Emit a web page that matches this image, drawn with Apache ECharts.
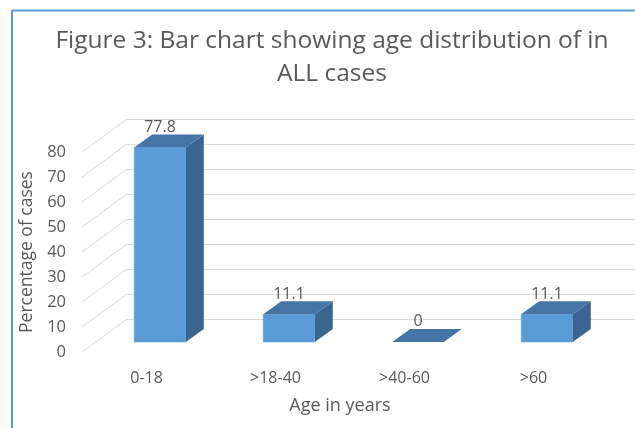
<!DOCTYPE html>
<html>
<head>
<meta charset="utf-8">
<script src="https://cdn.jsdelivr.net/npm/echarts@6/dist/echarts.min.js"></script>
<style>
  html, body { margin: 0; padding: 0; background: #ffffff; }
  #chart { width: 635px; height: 428px; }
</style>
</head>
<body>
<div id="chart"></div>
<script>
// ---- data ----
const categories = ['0-18', '>18-40', '>40-60', '>60'];
const percentages = [77.8, 11.1, 0, 11.1];
const yTicks = [0, 10, 20, 30, 40, 50, 60, 70, 80];
const titleText = 'Figure 3: Bar chart showing age distribution of in\nALL cases';
const xTitle = 'Age in years';
const yTitle = 'Percentage of cases';

// ---- style / geometry ----
const TEXT = '#595959';
const GRID = '#D9D9D9';
const FRONT = '#5B9BD5';
const TOPC = '#4674A6';
const SIDE = '#3A6590';
const FONT = 'Open Sans';
const DX = 45, DY = -33;           // depth of the 3D floor
const F0 = 0.3, F1 = 0.7;          // bar depth start / end fraction

const chart = echarts.init(document.getElementById('chart'), null, { renderer: 'canvas' });

function renderDiag(params, api) {
  const p = api.coord([0, api.value(1)]);
  const x = params.coordSys.x;
  return {
    type: 'line',
    shape: { x1: x, y1: p[1], x2: x + DX, y2: p[1] + DY },
    style: { stroke: GRID, lineWidth: 1 },
    z2: 0
  };
}

function renderBar(params, api) {
  const i = api.value(0), v = api.value(1);
  const base = api.coord([i, 0]);
  const top = api.coord([i, v]);
  const w = api.size([1, 0])[0] * 0.4;
  const x0 = base[0] + F0 * DX - w / 2, x1 = x0 + w;
  const yb = base[1] + F0 * DY, yt = top[1] + F0 * DY;
  const dx = (F1 - F0) * DX, dy = (F1 - F0) * DY;
  const children = [];
  if (yb - yt > 0.5) {
    children.push({ type: 'rect', shape: { x: x0, y: yt, width: w, height: yb - yt },
      style: { fill: FRONT, stroke: '#6aa6dc', lineWidth: 0.6 } });
    children.push({ type: 'polygon', shape: { points: [[x1, yt], [x1 + dx, yt + dy], [x1 + dx, yb + dy], [x1, yb]] },
      style: { fill: SIDE } });
  }
  children.push({ type: 'polygon', shape: { points: [[x0, yt], [x1, yt], [x1 + dx, yt + dy], [x0 + dx, yt + dy]] },
    style: { fill: TOPC } });
  children.push({ type: 'text', style: {
      text: String(v), x: (x0 + x1) / 2, y: yt + dy - 7,
      align: 'center', verticalAlign: 'middle',
      fill: TEXT, font: '16px "' + FONT + '"' } });
  return { type: 'group', children: children };
}

const option = {
  backgroundColor: '#ffffff',
  animation: false,
  title: {
    text: titleText,
    left: 327, top: 20, textAlign: 'center',
    textStyle: { fontFamily: FONT, fontSize: 24.5, fontWeight: 'normal', color: TEXT, lineHeight: 33 }
  },
  graphic: [
    { type: 'line', shape: { x1: 12, y1: 10.5, x2: 640, y2: 10.5 }, style: { stroke: '#5B9BD5', lineWidth: 2 } },
    { type: 'line', shape: { x1: 12, y1: 10, x2: 12, y2: 440 }, style: { stroke: '#5B9BD5', lineWidth: 2 } }
  ],
  grid: [
    { left: 82, top: 152, width: 516, height: 200 },
    { left: 82 + DX, top: 152 + DY, width: 516, height: 200 }
  ],
  xAxis: [
    { type: 'category', gridIndex: 0, data: categories,
      axisLine: { show: false }, axisTick: { show: false },
      axisLabel: { color: TEXT, fontFamily: FONT, fontSize: 16, margin: 18 },
      name: xTitle, nameLocation: 'middle', nameGap: 45,
      nameTextStyle: { color: TEXT, fontFamily: FONT, fontSize: 18 } },
    { type: 'category', gridIndex: 1, data: categories, show: false }
  ],
  yAxis: [
    { type: 'value', gridIndex: 0, min: 0, max: 80, interval: 10,
      axisLine: { show: false }, axisTick: { show: false }, splitLine: { show: false },
      axisLabel: { color: TEXT, fontFamily: FONT, fontSize: 16.5, margin: 16 },
      name: yTitle, nameLocation: 'middle', nameRotate: 90, nameGap: 45,
      nameTextStyle: { color: TEXT, fontFamily: FONT, fontSize: 17.5 } },
    { type: 'value', gridIndex: 1, min: 0, max: 80, interval: 10,
      axisLine: { show: false }, axisTick: { show: false }, axisLabel: { show: false },
      splitLine: { show: true, lineStyle: { color: GRID, width: 1 } } }
  ],
  series: [
    { type: 'custom', xAxisIndex: 0, yAxisIndex: 0, renderItem: renderDiag,
      data: yTicks.map(t => [0, t]), z: 1, silent: true },
    { type: 'custom', xAxisIndex: 0, yAxisIndex: 0, renderItem: renderBar,
      data: percentages.map((v, i) => [i, v]), z: 3 }
  ]
};
chart.setOption(option);
</script>
</body>
</html>
